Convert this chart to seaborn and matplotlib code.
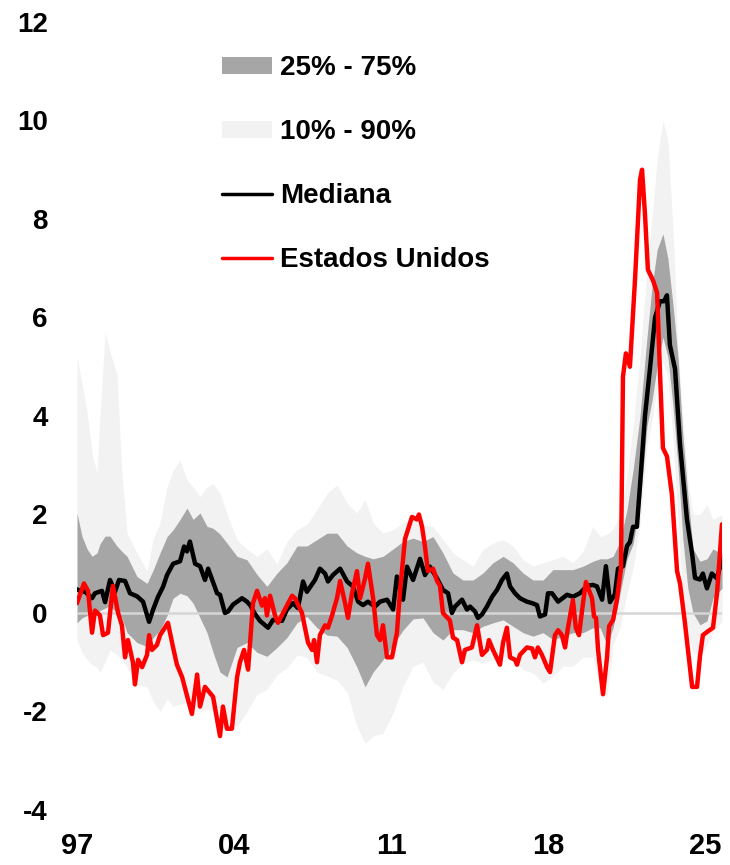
import pandas as pd
import matplotlib
matplotlib.use("Agg")
import matplotlib.pyplot as plt
import seaborn as sns
from matplotlib.patches import Patch
from matplotlib.lines import Line2D

# percentile bands (shared time grid, fractional years)
band_t = [1997.00, 1997.22, 1997.45, 1997.67, 1997.89, 1998.02, 1998.25, 1998.47, 1998.78, 1999.00,
          1999.23, 1999.67, 2000.12, 2000.39, 2000.70, 2001.01, 2001.28, 2001.59, 2001.90, 2002.17,
          2002.48, 2002.79, 2003.06, 2003.37, 2003.68, 2004.13, 2004.57, 2005.02, 2005.46, 2005.91,
          2006.35, 2006.80, 2007.24, 2007.69, 2008.14, 2008.58, 2009.03, 2009.47, 2009.83, 2010.19,
          2010.63, 2011.08, 2011.52, 2011.97, 2012.41, 2012.86, 2013.30, 2013.75, 2014.19, 2014.64,
          2015.08, 2015.53, 2015.98, 2016.42, 2016.87, 2017.31, 2017.76, 2018.20, 2018.65, 2019.09,
          2019.54, 2019.98, 2020.30, 2020.61, 2020.88, 2021.19, 2021.50, 2021.77, 2022.08, 2022.39,
          2022.61, 2022.84, 2023.10, 2023.32, 2023.55, 2023.77, 2023.99, 2024.21, 2024.44, 2024.75,
          2025.06, 2025.33, 2025.73]
p90 = [5.2, 4.67, 4.06, 3.25, 2.84, 3.97, 5.7, 5.3, 4.85, 2.84,
       1.62, 1.22, 0.85, 1.5, 1.83, 2.56, 2.9, 3.1, 2.7, 2.56,
       2.36, 2.56, 2.63, 2.43, 2.02, 1.48, 1.3, 1.15, 1.3, 1.0,
       1.45, 1.69, 1.8, 2.1, 2.43, 2.6, 2.23, 2.03, 2.3, 1.83,
       1.62, 1.69, 1.83, 1.96, 1.8, 1.75, 1.49, 1.22, 1.08, 0.95,
       1.29, 1.42, 1.49, 1.36, 1.08, 0.95, 1.02, 1.08, 1.15, 1.02,
       1.25, 1.76, 1.55, 1.6, 1.7, 2.0, 2.8, 3.8, 5.2, 7.0,
       8.0, 9.2, 10.0, 9.6, 7.8, 5.4, 3.9, 2.7, 2.0, 2.0,
       2.2, 1.9, 2.0]
p75 = [2.03, 1.56, 1.3, 1.15, 1.22, 1.4, 1.56, 1.56, 1.36, 1.25,
       1.15, 0.74, 0.6, 0.87, 1.22, 1.55, 1.69, 1.9, 2.13, 1.9,
       2.03, 1.76, 1.72, 1.6, 1.42, 1.15, 1.08, 0.78, 0.54, 0.81,
       1.02, 1.36, 1.36, 1.49, 1.62, 1.62, 1.36, 1.22, 1.15, 1.1,
       1.15, 1.3, 1.45, 1.52, 1.45, 1.55, 1.22, 0.81, 0.67, 0.67,
       0.81, 1.02, 1.15, 1.02, 0.81, 0.67, 0.67, 0.88, 0.88, 0.88,
       0.95, 1.05, 1.1, 1.1, 1.15, 1.45, 2.1, 2.9, 4.0, 5.6,
       6.6, 7.37, 7.7, 7.2, 6.25, 5.2, 3.6, 2.4, 1.3, 1.05,
       1.1, 1.3, 1.2]
p25 = [-0.2, -0.1, -0.05, 0.0, 0.0, 0.05, 0.1, 0.15, 0.0, -0.1,
       -0.4, -0.6, -0.68, -0.5, -0.35, -0.05, 0.3, 0.4, 0.35, 0.2,
       -0.1, -0.4, -0.8, -1.2, -1.3, -0.7, -0.6, -0.8, -0.88, -0.7,
       -0.5, -0.2, -0.07, -0.3, -0.45, -0.47, -0.7, -1.1, -1.5, -1.2,
       -0.95, -0.65, -0.35, -0.12, -0.1, -0.4, -0.55, -0.34, -0.34, -0.4,
       -0.27, -0.2, -0.14, -0.27, -0.4, -0.47, -0.4, -0.54, -0.47, -0.4,
       -0.4, -0.3, -0.3, -0.65, -0.3, 0.4, 1.1, 1.4, 2.2, 3.8,
       4.3, 5.0, 5.6, 5.2, 4.2, 3.0, 1.5, 0.5, 0.0, -0.24,
       -0.16, 0.3, 0.5]
p10 = [-0.55, -0.8, -0.95, -1.05, -1.1, -1.2, -1.0, -0.75, -0.85, -0.95,
       -1.1, -1.45, -1.5, -1.8, -2.0, -1.75, -1.9, -1.85, -1.8, -1.9,
       -2.0, -1.95, -2.0, -2.3, -2.35, -2.3, -2.0, -1.65, -1.55, -1.25,
       -1.12, -0.85, -0.9, -1.2, -1.28, -1.36, -1.6, -2.3, -2.65, -2.5,
       -2.44, -2.03, -1.49, -1.08, -1.0, -1.4, -1.55, -1.22, -1.02, -0.95,
       -1.02, -0.95, -0.88, -0.95, -1.15, -1.22, -1.42, -1.29, -1.08, -1.08,
       -0.9, -0.9, -1.5, -1.7, -0.65, -0.3, 0.4, 0.9, 1.8, 3.4,
       3.9, 4.6, 5.1, 4.8, 3.5, 1.9, 0.3, -0.4, -0.8, -0.9,
       -0.65, -0.4, -0.16]

# median
med_t = [1997.00, 1997.13, 1997.36, 1997.67, 1997.80, 1998.11, 1998.25, 1998.47, 1998.69, 1998.87,
         1999.14, 1999.36, 1999.67, 1999.94, 2000.21, 2000.39, 2000.61, 2000.83, 2001.01, 2001.28,
         2001.59, 2001.77, 2001.90, 2002.03, 2002.26, 2002.48, 2002.70, 2002.84, 2003.24, 2003.37,
         2003.59, 2003.73, 2003.95, 2004.35, 2004.57, 2004.71, 2004.93, 2005.15, 2005.51, 2005.73,
         2006.13, 2006.35, 2006.62, 2006.84, 2007.07, 2007.24, 2007.60, 2007.82, 2008.05, 2008.18,
         2008.40, 2008.72, 2009.03, 2009.29, 2009.52, 2009.74, 2009.96, 2010.27, 2010.50, 2010.81,
         2011.08, 2011.25, 2011.52, 2011.70, 2011.97, 2012.28, 2012.50, 2012.72, 2013.04, 2013.30,
         2013.53, 2013.70, 2013.84, 2014.15, 2014.37, 2014.51, 2014.73, 2014.86, 2015.04, 2015.26,
         2015.49, 2015.71, 2015.93, 2016.15, 2016.29, 2016.51, 2016.73, 2017.04, 2017.27, 2017.49,
         2017.62, 2017.85, 2017.98, 2018.16, 2018.43, 2018.83, 2019.09, 2019.40, 2019.72, 2019.98,
         2020.16, 2020.39, 2020.56, 2020.74, 2020.96, 2021.10, 2021.32, 2021.50, 2021.63, 2021.77,
         2021.94, 2022.08, 2022.30, 2022.52, 2022.75, 2022.97, 2023.15, 2023.28, 2023.41, 2023.64,
         2023.86, 2024.17, 2024.40, 2024.53, 2024.75, 2024.88, 2025.06, 2025.28, 2025.51, 2025.73]
median = [0.48, 0.45, 0.43, 0.3, 0.4, 0.45, 0.22, 0.67, 0.43, 0.67,
          0.65, 0.4, 0.34, 0.23, -0.18, 0.07, 0.33, 0.53, 0.77, 1.0,
          1.05, 1.35, 1.25, 1.45, 1.0, 0.95, 0.67, 0.9, 0.4, 0.37,
          0.0, 0.03, 0.17, 0.3, 0.23, 0.16, -0.02, -0.16, -0.3, -0.14,
          -0.16, 0.07, 0.2, 0.1, 0.64, 0.43, 0.67, 0.9, 0.8, 0.64,
          0.77, 0.9, 0.64, 0.54, 0.23, 0.16, 0.23, 0.13, 0.23, 0.27,
          0.07, 0.74, 0.27, 0.94, 0.67, 1.1, 0.77, 0.94, 0.7, 0.47,
          0.4, 0.0, 0.13, 0.27, 0.07, 0.13, 0.03, -0.1, -0.03, 0.13,
          0.33, 0.47, 0.67, 0.8, 0.54, 0.4, 0.3, 0.23, 0.2, 0.16,
          -0.07, -0.03, 0.4, 0.4, 0.23, 0.37, 0.33, 0.4, 0.55, 0.57,
          0.54, 0.27, 0.95, 0.22, 0.38, 0.9, 0.95, 1.36, 1.44, 1.75,
          1.75, 2.6, 4.0, 4.95, 6.0, 6.33, 6.33, 6.45, 5.44, 4.95,
          3.43, 1.9, 1.2, 0.71, 0.68, 0.8, 0.5, 0.8, 0.7, 1.1]

# Estados Unidos
us_t = [1997.00, 1997.31, 1997.49, 1997.67, 1997.80, 1998.02, 1998.16, 1998.38, 1998.60, 1998.83,
        1999.00, 1999.14, 1999.27, 1999.49, 1999.58, 1999.72, 1999.90, 2000.12, 2000.21, 2000.34,
        2000.56, 2000.70, 2001.05, 2001.28, 2001.45, 2001.68, 2001.94, 2002.12, 2002.35, 2002.48,
        2002.70, 2003.06, 2003.37, 2003.50, 2003.68, 2003.90, 2004.13, 2004.26, 2004.44, 2004.62,
        2004.84, 2005.02, 2005.24, 2005.37, 2005.46, 2005.60, 2005.82, 2005.95, 2006.18, 2006.58,
        2006.71, 2007.02, 2007.29, 2007.47, 2007.56, 2007.69, 2007.82, 2008.05, 2008.18, 2008.36,
        2008.58, 2008.72, 2008.94, 2009.07, 2009.25, 2009.47, 2009.61, 2009.83, 2009.96, 2010.19,
        2010.36, 2010.50, 2010.63, 2010.81, 2011.03, 2011.25, 2011.39, 2011.61, 2011.92, 2012.14,
        2012.23, 2012.37, 2012.50, 2012.63, 2012.86, 2013.04, 2013.17, 2013.30, 2013.61, 2013.75,
        2013.93, 2014.15, 2014.28, 2014.59, 2014.82, 2015.04, 2015.26, 2015.35, 2015.53, 2015.84,
        2015.98, 2016.15, 2016.29, 2016.51, 2016.60, 2016.73, 2017.04, 2017.27, 2017.40, 2017.53,
        2017.71, 2017.94, 2018.07, 2018.29, 2018.43, 2018.60, 2018.74, 2018.87, 2019.09, 2019.22,
        2019.36, 2019.54, 2019.67, 2019.94, 2020.03, 2020.12, 2020.21, 2020.43, 2020.61, 2020.70,
        2020.88, 2021.05, 2021.23, 2021.32, 2021.45, 2021.63, 2021.86, 2022.08, 2022.17, 2022.30,
        2022.43, 2022.66, 2022.84, 2022.97, 2023.10, 2023.28, 2023.50, 2023.73, 2023.86, 2024.08,
        2024.40, 2024.62, 2024.75, 2024.88, 2025.11, 2025.33, 2025.51, 2025.73]
us = [0.2, 0.6, 0.45, -0.4, 0.05, -0.05, -0.45, -0.4, 0.55, 0.0,
      -0.25, -0.9, -0.55, -1.0, -1.45, -0.95, -1.1, -0.85, -0.45, -0.75,
      -0.65, -0.45, -0.2, -0.7, -1.05, -1.3, -1.75, -2.05, -1.25, -1.9,
      -1.5, -1.7, -2.5, -1.9, -2.35, -2.35, -1.3, -1.0, -0.75, -1.15,
      0.2, 0.45, 0.15, 0.3, -0.05, 0.35, -0.05, -0.2, 0.0, 0.35,
      0.3, 0.0, -0.6, -0.75, -0.55, -1.0, -0.45, -0.25, -0.3, -0.05,
      0.3, 0.65, 0.2, -0.1, 0.4, 0.85, 0.3, 0.7, 1.0, 0.3,
      -0.45, -0.55, -0.25, -0.9, -0.9, -0.4, 0.45, 1.5, 1.95, 1.9,
      2.0, 1.75, 1.35, 0.85, 0.9, 0.65, 0.55, 0.0, -0.15, -0.5,
      -0.55, -1.0, -0.75, -0.7, -0.25, -0.85, -0.75, -0.55, -0.75, -1.05,
      -0.6, -0.3, -0.9, -0.95, -1.05, -0.85, -0.7, -0.72, -0.9, -0.7,
      -0.85, -1.1, -1.2, -0.45, -0.35, -0.45, -0.7, -0.3, 0.26, -0.3,
      -0.45, 0.2, 0.63, 0.3, -0.07, -0.1, -0.75, -1.65, -0.9, -0.27,
      -0.14, 0.27, 0.9, 4.8, 5.27, 5.0, 6.8, 8.8, 9.0, 8.1,
      6.97, 6.75, 6.5, 4.87, 3.35, 3.18, 2.4, 0.85, 0.6, -0.2,
      -1.5, -1.5, -0.88, -0.45, -0.37, -0.3, 0.4, 1.8]

x_ticks = [1997, 2004, 2011, 2018, 2025]
x_labels = ["97", "04", "11", "18", "25"]
y_ticks = [-4, -2, 0, 2, 4, 6, 8, 10, 12]

DARK = "#a6a6a6"
LIGHT = "#f2f2f2"

sns.set_theme(style="white")
plt.rcParams["font.family"] = ["Liberation Sans", "DejaVu Sans"]
plt.rcParams["font.weight"] = "bold"
plt.rcParams["text.color"] = "black"
plt.rcParams["xtick.color"] = "black"
plt.rcParams["ytick.color"] = "black"

bands = pd.DataFrame({"t": band_t, "p10": p10, "p25": p25, "p75": p75, "p90": p90})
med_df = pd.DataFrame({"t": med_t, "v": median})
us_df = pd.DataFrame({"t": us_t, "v": us})

fig = plt.figure(figsize=(7.3, 8.65), dpi=100)
ax = fig.add_axes([0.1055, 0.0636, 0.8835, 0.911])

ax.fill_between(bands["t"], bands["p10"], bands["p90"], color=LIGHT, lw=0, zorder=1)
ax.fill_between(bands["t"], bands["p25"], bands["p75"], color=DARK, lw=0, zorder=2)
ax.axhline(0, color="#d6d6d6", lw=1.8, zorder=3)

sns.lineplot(data=med_df, x="t", y="v", color="black", lw=3.2, ax=ax, zorder=4)
sns.lineplot(data=us_df, x="t", y="v", color="#ff0000", lw=3.2, ax=ax, zorder=5)

ax.set_xlim(1997.0, 2025.73)
ax.set_ylim(-4, 12)
ax.set_xticks(x_ticks)
ax.set_xticklabels(x_labels, fontsize=21, fontweight="bold", color="black",
                   family=["Liberation Sans Narrow", "Liberation Sans"])
ax.set_yticks(y_ticks)
ax.set_yticklabels([str(v) for v in y_ticks], fontsize=20, fontweight="bold", color="black")
ax.tick_params(axis="x", length=0, pad=16)
ax.tick_params(axis="y", length=0, pad=21)
ax.set_xlabel("")
ax.set_ylabel("")
for s in ax.spines.values():
    s.set_visible(False)

handles = [
    Patch(facecolor=DARK, edgecolor="none", label="25% - 75%"),
    Patch(facecolor=LIGHT, edgecolor="none", label="10% - 90%"),
    Line2D([], [], color="black", lw=2.5, label="Mediana"),
    Line2D([], [], color="#ff0000", lw=2.5, label="Estados Unidos"),
]
leg = ax.legend(handles=handles, loc="upper left", bbox_to_anchor=(0.225, 0.958),
                frameon=False, borderpad=0, borderaxespad=0,
                handlelength=1.8, handleheight=0.55, handletextpad=0.3,
                labelspacing=1.37, prop={"weight": "bold", "size": 20})
for txt in leg.get_texts():
    txt.set_color("black")

fig.savefig("out.png", dpi=100)
